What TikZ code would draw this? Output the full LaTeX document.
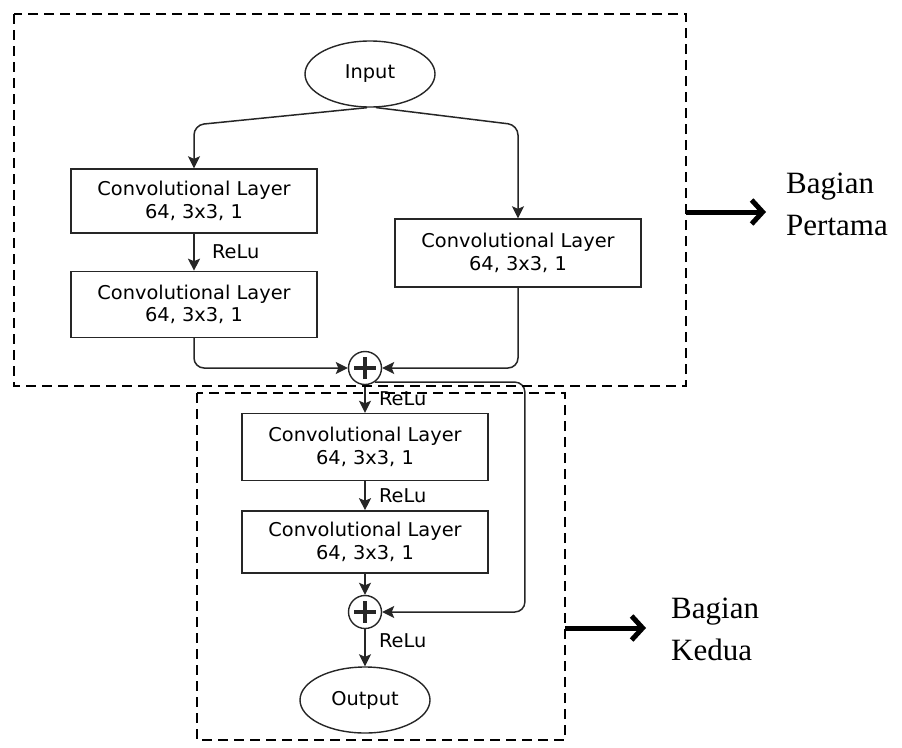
\documentclass[tikz,border=0pt]{standalone}
\usepackage{fontspec}
\setmainfont{DejaVu Sans}[FakeStretch=1.02]
\newfontfamily\partfont{Liberation Serif}
\usetikzlibrary{shapes.geometric}
\usetikzlibrary{arrows.meta}
\usetikzlibrary{positioning}

\tikzset{
  layer/.style={draw=black!85, line width=1.4pt, minimum width=246pt, minimum height=64pt,
    align=center, font=\fontsize{19}{22.5}\selectfont},
  term/.style={draw=black!85, line width=1.4pt, ellipse, minimum width=130pt, minimum height=66pt,
    font=\fontsize{19}{22}\selectfont},
  sum/.style={draw=black!85, line width=1.4pt, circle, minimum size=33pt, inner sep=0pt,
    path picture={\draw[line width=3.4pt] (path picture bounding box.center) +(-11pt,0) -- +(11pt,0)
      (path picture bounding box.center) +(0,-11pt) -- +(0,11pt);}},
  flow/.style={-{Stealth[length=12pt,width=12pt,inset=2.5pt]}, line width=1.5pt, draw=black!85, rounded corners=10pt},
  relu/.style={anchor=west, font=\fontsize{19}{22}\selectfont},
  part/.style={line width=2.3pt, dash pattern=on 10pt off 6pt},
  point/.style={-{Straight Barb[length=11pt,width=24pt]}, line width=5pt},
  note/.style={anchor=west, align=left, inner sep=0pt, font=\partfont\fontsize{31}{42}\selectfont}
}

\begin{document}
\begin{tikzpicture}[x=1pt,y=-1pt]
\useasboundingbox (0,0) rectangle (902,747);

\node[term] (in) at (370,74) {Input};
\node[layer] (c1) at (194,201) {Convolutional Layer\\64, 3x3, 1};
\node[layer, minimum height=66pt, below=37pt of c1] (c2) {Convolutional Layer\\64, 3x3, 1};
\node[layer, minimum height=68pt] (c3) at (518,253) {Convolutional Layer\\64, 3x3, 1};
\node[sum] (s1) at (365,368) {};
\node[layer, minimum height=67pt] (c4) at (365,447) {Convolutional Layer\\64, 3x3, 1};
\node[layer, minimum height=62pt, below=29pt of c4] (c5) {Convolutional Layer\\64, 3x3, 1};
\node[sum] (s2) at (365,612) {};
\node[term] (out) at (365,700) {Output};

\draw[flow] (in.-95) -- (194,125) -- (c1.north);
\draw[flow] (in.-80) -- (518,125) -- (c3.north);
\draw[flow] (c1) -- node[relu, xshift=14pt] {ReLu} (c2);
\draw[flow] (c2.south) |- (s1.west);
\draw[flow] (c3.south) |- (s1.east);
\draw[flow] (s1) -- node[relu, xshift=10pt] {ReLu} (c4);
\draw[flow] (c4) -- node[relu, xshift=10pt] {ReLu} (c5);
\draw[flow] (c5) -- (s2);
\draw[flow] (s2) -- node[relu, pos=0.3, xshift=10pt] {ReLu} (out);
\draw[flow] (s1.-55) -- ++(150,0) |- (s2.east);

\draw[part] (14,14) rectangle (686,386);
\draw[part] (197,393) rectangle (565,740);

\node[note] (bp) at (786,204) {Bagian\\Pertama};
\node[note] (bk) at (671,629) {Bagian\\Kedua};
\coordinate (e1) at (686,212);
\coordinate (e2) at (565,628);
\draw[point] (e1) -- (e1 -| bp.west) [shorten >=20pt];
\draw[point] (e2) -- (e2 -| bk.west) [shorten >=25pt];
\end{tikzpicture}
\end{document}
